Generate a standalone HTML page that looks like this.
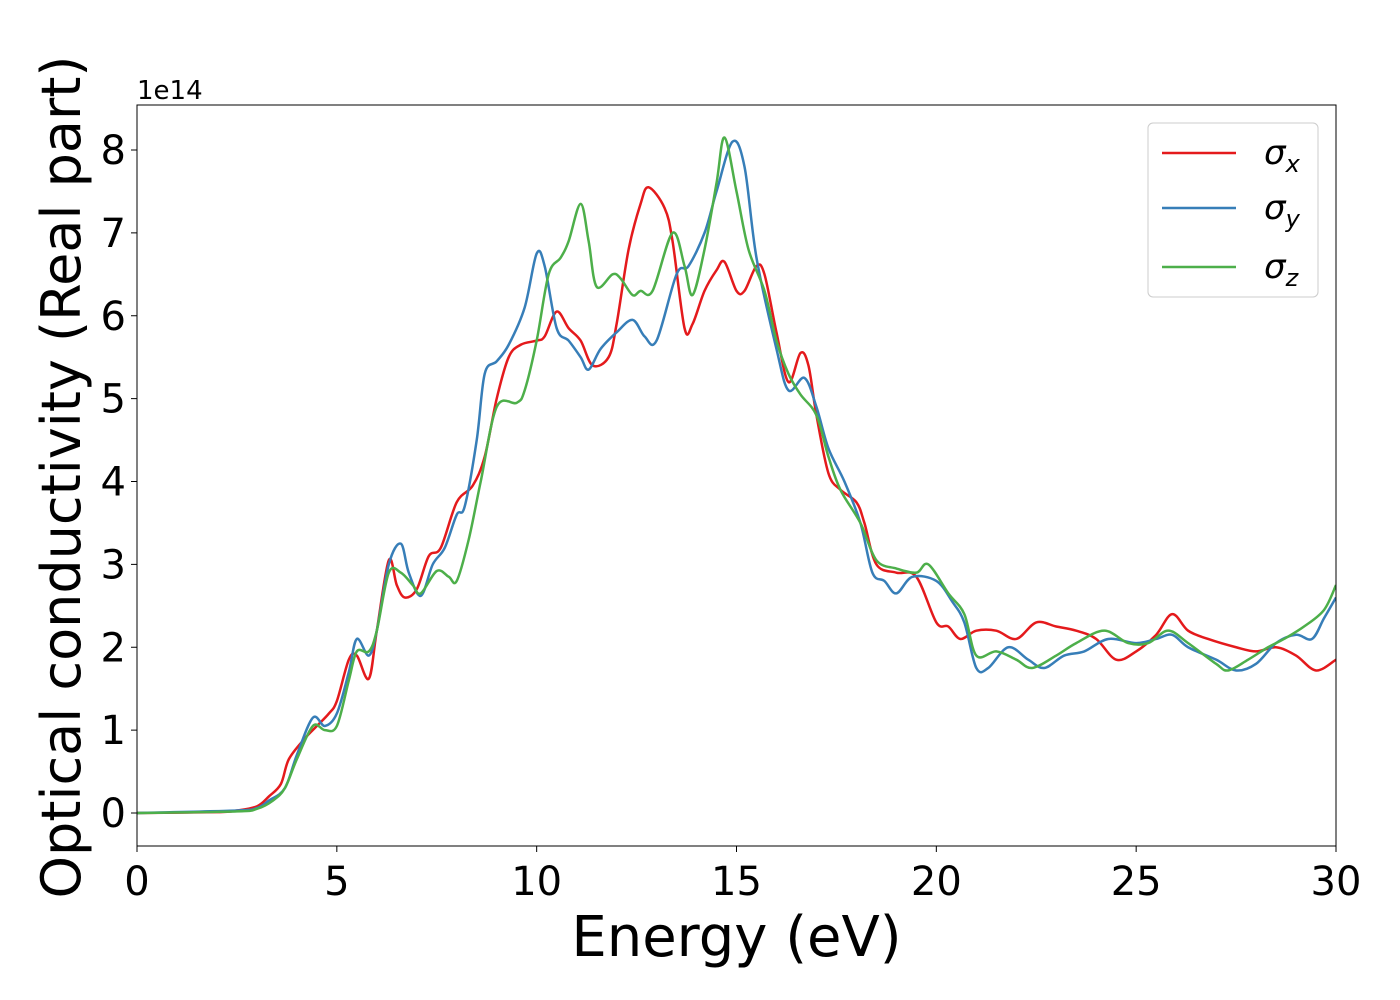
<!DOCTYPE html>
<html><head><meta charset="utf-8"><style>
html,body{margin:0;padding:0;background:#fff;}
svg{display:block;font-family:"DejaVu Sans","Liberation Sans",sans-serif;}
</style></head><body>
<svg id="chart" width="1400" height="1000" viewBox="0 0 1400 1000" xmlns="http://www.w3.org/2000/svg">
<g id="plot"></g>
</svg>
<script>
const xTicks=[0,5,10,15,20,25,30];
const yTicks=[0,1,2,3,4,5,6,7,8];
const seriesNames=["σx","σy","σz"];
const seriesColors=["#e41a1c","#377eb8","#4daf4a"];
const xE=[0,2,2.5,3,3.3,3.6,3.8,4.2,4.5,4.8,5,5.3,5.5,5.8,6,6.3,6.5,6.7,7,7.3,7.6,8,8.4,8.7,9,9.3,9.6,10,10.2,10.5,10.8,11.1,11.4,11.8,12,12.3,12.6,12.8,13.2,13.4,13.7,13.9,14.2,14.5,14.7,15,15.2,15.5,15.7,16,16.3,16.6,16.8,17,17.3,17.6,18,18.2,18.5,19,19.5,20,20.3,20.6,21,21.5,22,22.5,23,23.5,24,24.5,25,25.5,25.9,26.3,26.8,27.5,28,28.5,29,29.5,30];
const xV=[0,0.01,0.03,0.08,0.2,0.35,0.65,0.9,1.05,1.2,1.35,1.85,1.9,1.62,2.2,3.05,2.75,2.6,2.7,3.1,3.2,3.75,3.95,4.3,5.0,5.5,5.65,5.7,5.75,6.05,5.85,5.7,5.4,5.5,5.9,6.8,7.35,7.55,7.3,6.9,5.85,5.9,6.3,6.55,6.65,6.3,6.3,6.6,6.5,5.8,5.2,5.55,5.4,4.8,4.1,3.9,3.75,3.5,3.0,2.9,2.85,2.3,2.25,2.1,2.2,2.2,2.1,2.3,2.25,2.2,2.1,1.85,1.95,2.15,2.4,2.2,2.1,2.0,1.95,2.0,1.9,1.72,1.85];
const yE=[0,2.5,3,3.3,3.7,4,4.4,4.7,5,5.3,5.5,5.8,6,6.3,6.6,6.8,7.1,7.4,7.7,8,8.2,8.5,8.7,9,9.3,9.7,10,10.2,10.5,10.8,11.1,11.3,11.6,12,12.4,12.7,13,13.5,13.8,14.2,14.5,14.9,15.2,15.5,16,16.3,16.7,17,17.3,17.7,18.1,18.4,18.7,19,19.4,20,20.4,20.7,21,21.3,21.8,22.3,22.7,23.2,23.7,24.3,25,25.5,25.9,26.3,27,27.5,28,28.5,29,29.4,29.7,30];
const yV=[0,0.03,0.06,0.15,0.3,0.7,1.15,1.05,1.2,1.7,2.1,1.9,2.2,3.0,3.25,2.9,2.62,3.0,3.2,3.6,3.7,4.5,5.3,5.45,5.65,6.1,6.75,6.6,5.85,5.7,5.5,5.35,5.6,5.8,5.95,5.75,5.7,6.5,6.6,7.0,7.5,8.1,7.8,6.7,5.6,5.1,5.25,4.9,4.4,4.0,3.5,2.9,2.8,2.65,2.85,2.8,2.55,2.3,1.75,1.75,2.0,1.85,1.75,1.9,1.95,2.1,2.05,2.1,2.15,2.0,1.85,1.72,1.8,2.05,2.15,2.1,2.35,2.6];
const zE=[0,2.5,3,3.4,3.7,4,4.4,4.7,5,5.3,5.5,5.8,6,6.3,6.6,6.9,7.1,7.5,7.8,8,8.3,8.6,9,9.5,9.7,10,10.3,10.6,10.8,11.1,11.3,11.5,11.9,12.1,12.4,12.6,12.9,13.4,13.7,13.9,14.2,14.5,14.7,15,15.3,15.7,16,16.3,16.6,17,17.3,17.6,18.1,18.5,19,19.5,19.8,20.3,20.7,21,21.5,22,22.4,23,23.5,24.2,24.8,25.3,25.8,26.3,27,27.3,27.8,28.3,28.7,29.2,29.7,30];
const zV=[0,0.02,0.05,0.15,0.3,0.65,1.05,1.0,1.05,1.6,1.95,1.95,2.2,2.9,2.9,2.75,2.65,2.92,2.85,2.8,3.3,4.0,4.9,4.95,5.1,5.7,6.5,6.7,6.9,7.35,6.9,6.35,6.5,6.45,6.25,6.3,6.3,7.0,6.6,6.25,6.8,7.6,8.15,7.5,6.8,6.3,5.7,5.3,5.05,4.8,4.3,3.9,3.5,3.05,2.95,2.9,3.0,2.65,2.4,1.9,1.95,1.85,1.75,1.9,2.05,2.2,2.05,2.05,2.2,2.05,1.8,1.72,1.85,2.0,2.1,2.25,2.45,2.75];

const NS="http://www.w3.org/2000/svg";
const L=137,R=1336,T=105,B=846;
const xs=v=>L+(v-0)/(30-0)*(R-L);
const ys=v=>813-v*(813-150)/8;
const g=document.getElementById('plot');
function mk(tag,attrs,parent){const e=document.createElementNS(NS,tag);for(const k in attrs)e.setAttribute(k,attrs[k]);(parent||g).appendChild(e);return e;}
function smooth(E,V){
  const p=E.map((e,i)=>[xs(e),ys(V[i])]);
  let d="M"+p[0][0]+","+p[0][1];
  for(let i=0;i<p.length-1;i++){
    const p0=p[Math.max(0,i-1)],p1=p[i],p2=p[i+1],p3=p[Math.min(p.length-1,i+2)];
    const c1=[p1[0]+(p2[0]-p0[0])/6,p1[1]+(p2[1]-p0[1])/6];
    const c2=[p2[0]-(p3[0]-p1[0])/6,p2[1]-(p3[1]-p1[1])/6];
    d+=" C"+c1[0]+","+c1[1]+" "+c2[0]+","+c2[1]+" "+p2[0]+","+p2[1];
  }
  return d;
}
const clip=mk('clipPath',{id:'clipArea'});
mk('rect',{x:L,y:T,width:R-L,height:B-T},clip);
const series=[[xE,xV],[yE,yV],[zE,zV]];
const lines=mk('g',{'clip-path':'url(#clipArea)'});


series.forEach((s,i)=>{
  const p=mk('path',{d:smooth(s[0],s[1]),fill:'none',stroke:seriesColors[i],'stroke-width':2.5},lines);
  
  
});
const frame=mk('rect',{x:L,y:T,width:R-L,height:B-T,fill:'none',stroke:'#000','stroke-width':1});


xTicks.forEach(t=>{
  const x=xs(t);
  const tk=mk('line',{x1:x,x2:x,y1:B,y2:B+6,stroke:'#000','stroke-width':1});
  
  
  const tx=mk('text',{x:x,y:B+49,'text-anchor':'middle','font-size':40});
  tx.textContent=t;
  
  
});
yTicks.forEach(t=>{
  const y=ys(t);
  const tk=mk('line',{x1:L-6,x2:L,y1:y,y2:y,stroke:'#000','stroke-width':1});
  
  
  const tx=mk('text',{x:L-11,y:y+14,'text-anchor':'end','font-size':40});
  tx.textContent=t;
  
  
});
const off=mk('text',{x:L,y:T-6,'font-size':26});
off.textContent='1e14';


const xl=mk('text',{x:(L+R)/2,y:956,'text-anchor':'middle','font-size':56});
xl.textContent='Energy (eV)';


const yl=mk('text',{x:0,y:0,'text-anchor':'middle','font-size':54,transform:'translate(80,477) rotate(-90)'});
yl.textContent='Optical conductivity (Real part)';


const lg=mk('g',{});


mk('rect',{x:1148,y:123,width:170,height:174,rx:5,fill:'#fff','fill-opacity':0.8,stroke:'#ccc','stroke-width':1},lg);
const subs=['x','y','z'];
[153,208,267].forEach((y,i)=>{
  const e=mk('g',{},lg);
  
  
  mk('line',{x1:1162,x2:1236,y1:y,y2:y,stroke:seriesColors[i],'stroke-width':2.5},e);
  const t=mk('text',{x:1264,y:y+11,'font-size':34,'font-style':'italic'},e);
  t.textContent='σ';
  const s=mk('tspan',{'font-size':24,dy:8},t);
  s.textContent=subs[i];
});
</script>
</body></html>
